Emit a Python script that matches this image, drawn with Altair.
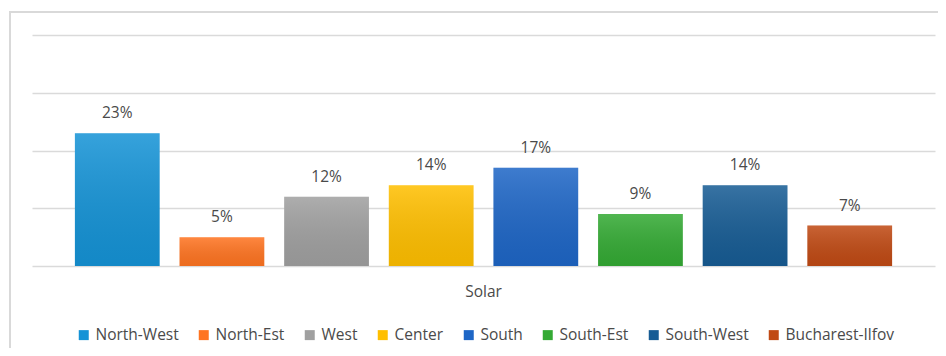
import altair as alt
import pandas as pd

regions = ["North-West", "North-Est", "West", "Center", "South", "South-Est", "South-West", "Bucharest-Ilfov"]
values = [23, 5, 12, 14, 17, 9, 14, 7]
labels = ["23%", "5%", "12%", "14%", "17%", "9%", "14%", "7%"]
colors = ["#1593D6", "#FF7421", "#A0A0A0", "#FFBF00", "#1E66C6", "#34AA34", "#175C94", "#C04A14"]
category = "Solar"

df = pd.DataFrame({"region": regions, "value": values, "label": labels})

FONT = "Open Sans"
TXT = "#4a4a4a"

x = alt.X("region:N", sort=regions, axis=None,
          scale=alt.Scale(paddingInner=0.19, paddingOuter=0.41))
y = alt.Y("value:Q", scale=alt.Scale(domain=[0, 40], nice=False),
          axis=alt.Axis(values=[0, 10, 20, 30, 40], labels=False, ticks=False,
                        domain=False, title=None, grid=True,
                        gridColor="#dadada", gridWidth=1.6))

frame = alt.Chart(df).mark_rect(fill=None, stroke="#d9d9d9", strokeWidth=1.5, clip=False).encode(
    x=alt.value(-22), x2=alt.value(940), y=alt.value(-23), y2=alt.value(360)
)

bars = alt.Chart(df).mark_bar().encode(
    x=x, y=y,
    color=alt.Color("region:N", sort=regions,
                    scale=alt.Scale(domain=regions, range=colors),
                    legend=alt.Legend(orient="none", direction="horizontal",
                                      legendX=44, legendY=292, title=None,
                                      symbolType="square", symbolSize=100,
                                      symbolStrokeWidth=0,
                                      labelFont=FONT, labelFontSize=15.5, labelColor=TXT,
                                      labelOffset=4, columnPadding=17, columns=8)),
)

shade = alt.Chart(df).mark_bar(
    fill=alt.Gradient(gradient="linear", x1=0, x2=0, y1=0, y2=1,
                      stops=[alt.GradientStop(color="rgba(255,255,255,0.14)", offset=0),
                             alt.GradientStop(color="rgba(0,0,0,0.07)", offset=1)])
).encode(x=x, y=y)

text = alt.Chart(df).mark_text(font=FONT, fontSize=15.5, color=TXT, baseline="alphabetic", dy=-15).encode(
    x=alt.X("region:N", sort=regions, axis=None,
            scale=alt.Scale(paddingInner=0.19, paddingOuter=0.41)),
    y=alt.Y("value:Q"),
    text="label:N",
)

cat = alt.Chart(pd.DataFrame({"c": [category]})).mark_text(
    font=FONT, fontSize=15.5, color=TXT, baseline="middle"
).encode(x=alt.value(451.5), y=alt.value(257), text="c:N")

chart = alt.layer(frame, bars, shade, text, cat).properties(
    width=903, height=231,
    autosize=alt.AutoSizeParams(type="none"),
    padding={"left": 24, "top": 27, "right": 3, "bottom": 82},
).configure_view(stroke=None)

chart.save("out.html", embed_options={"renderer": "svg", "actions": False})
